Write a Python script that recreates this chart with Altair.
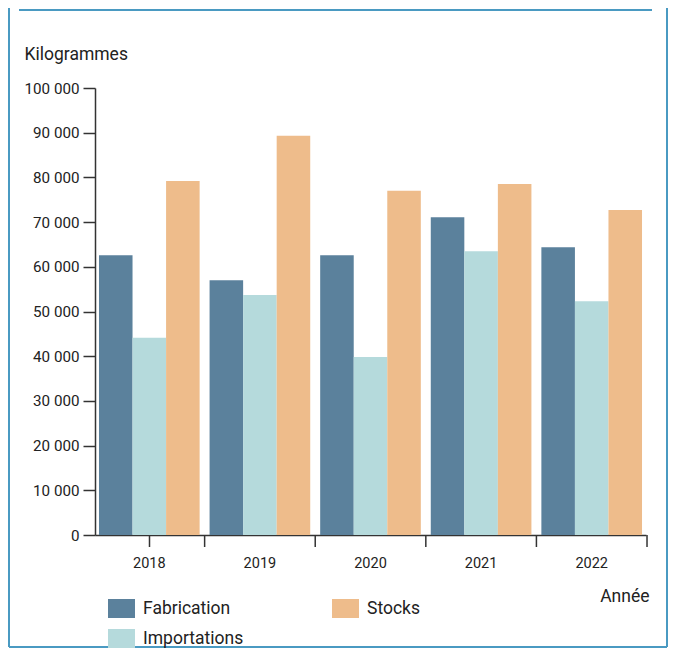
import altair as alt
import pandas as pd

years = ["2018", "2019", "2020", "2021", "2022"]
fabrication = [62600, 57000, 62600, 71100, 64400]
importations = [44100, 53700, 39800, 63500, 52300]
stocks = [79200, 89300, 77000, 78500, 72700]

series_order = ["Fabrication", "Importations", "Stocks"]
colors = {"Fabrication": "#5b819c", "Importations": "#b5dadc", "Stocks": "#eebc8b"}

rows = []
for i, y in enumerate(years):
    rows.append({"Année": y, "Série": "Fabrication", "Valeur": fabrication[i]})
    rows.append({"Année": y, "Série": "Importations", "Valeur": importations[i]})
    rows.append({"Année": y, "Série": "Stocks", "Valeur": stocks[i]})
df = pd.DataFrame(rows)
df_years = pd.DataFrame({"Année": years})

FONT = "Roboto"
W, H = 551, 447
FRAME = "#4a9ac2"
AXIS = "#333333"

xscale = alt.Scale(paddingInner=0.09, paddingOuter=0.036)

bars = alt.Chart(df).mark_bar().encode(
    x=alt.X(
        "Année:N",
        sort=years,
        scale=xscale,
        axis=alt.Axis(
            title="Année",
            labelAngle=0,
            ticks=False,
            labelPadding=21,
            labelFontSize=14.5,
            titleFontSize=17.5,
            titleFontWeight="normal",
            titleAnchor="end",
            titleAlign="right",
            titleBaseline="alphabetic",
            titleX=554,
            titleY=66,
        ),
    ),
    xOffset=alt.XOffset("Série:N", sort=series_order, scale=alt.Scale(paddingInner=0, paddingOuter=0)),
    y=alt.Y(
        "Valeur:Q",
        scale=alt.Scale(domain=[0, 100000], nice=False),
        axis=alt.Axis(
            title="Kilogrammes",
            values=list(range(0, 100001, 10000)),
            labelExpr="replace(format(datum.value, ','), ',', ' ')",
            grid=False,
            tickSize=12,
            labelPadding=4,
            labelFontSize=15.2,
            titleFontSize=17.5,
            titleFontWeight="normal",
            titleAngle=0,
            titleAlign="left",
            titleBaseline="alphabetic",
            titleX=-71,
            titleY=-29,
        ),
    ),
    color=alt.Color(
        "Série:N",
        scale=alt.Scale(domain=series_order, range=[colors[s] for s in series_order]),
        legend=alt.Legend(
            title=None,
            orient="none",
            legendX=17,
            legendY=511,
            columns=2,
            columnPadding=88,
            rowPadding=11,
            symbolType="M-1.42,-1H1.42V1H-1.42Z",
            symbolSize=361,
            symbolStrokeWidth=0,
            symbolOpacity=1,
            labelFontSize=17.5,
            labelOffset=12,
            labelLimit=300,
        ),
    ),
)

# x-axis ticks between year groups, drawn from the year categories
xticks = alt.Chart(df_years).mark_rule(color=AXIS, strokeWidth=1.5, xOffset=5).encode(
    x=alt.X("Année:N", sort=years, scale=xscale, bandPosition=1),
    y=alt.value(H),
    y2=alt.value(H + 12),
)

one = pd.DataFrame({"k": [0]})

def seg(x, x2, y, y2, color, width):
    return alt.Chart(one).mark_rule(color=color, strokeWidth=width).encode(
        x=alt.value(x), x2=alt.value(x2), y=alt.value(y), y2=alt.value(y2)
    )

frame = (
    seg(-86, -86, -80, 559, FRAME, 2)
    + seg(572, 572, -80, 559, FRAME, 2)
    + seg(-86, 572, 559, 559, FRAME, 2)
    + seg(-76, 557, -78, -78, FRAME, 2)
    + seg(54.5, 54.5, H, H + 12, AXIS, 1.5)
)

chart = (
    alt.layer(bars, xticks, frame)
    .properties(
        width=W,
        height=H,
        autosize=alt.AutoSizeParams(type="none"),
        padding={"left": 87, "top": 80, "right": 22, "bottom": 113},
    )
    .configure(font=FONT)
    .configure_view(stroke=None)
    .configure_axis(
        domainColor=AXIS,
        domainWidth=1.5,
        tickColor=AXIS,
        tickWidth=1.5,
        labelColor="#222222",
        titleColor="#222222",
        labelFont=FONT,
        titleFont=FONT,
    )
    .configure_legend(labelColor="#222222", labelFont=FONT)
)

chart.save("out.html", embed_options={"renderer": "svg", "actions": False})
